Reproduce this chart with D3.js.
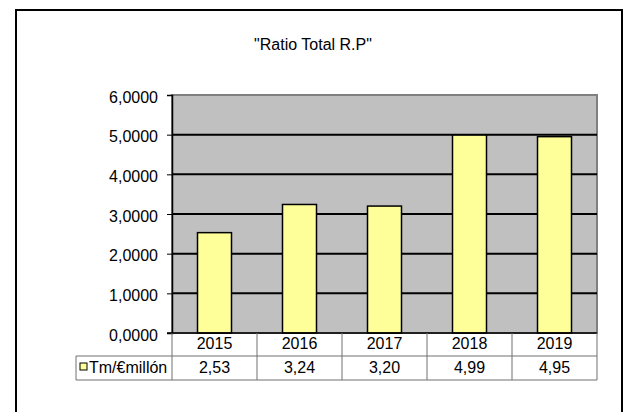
<!DOCTYPE html>
<html><head><meta charset="utf-8">
<script src="https://cdn.jsdelivr.net/npm/d3@7"></script>
<style>body{margin:0;background:#fff}svg{display:block}</style>
</head><body>
<script>
const categories = ["2015","2016","2017","2018","2019"];
const values = [2.53, 3.24, 3.20, 4.99, 4.95];
const valueLabels = ["2,53","3,24","3,20","4,99","4,95"];
const yTicks = [0,1,2,3,4,5,6];
const seriesName = "Tm/€millón";
const title = "\"Ratio Total R.P\"";

const W=625,H=412;
const svg=d3.select("body").append("svg").attr("width",W).attr("height",H);
const font="Liberation Sans, Arial, sans-serif";
const fs=16;
svg.append("rect").attr("x",16).attr("y",10).attr("width",606).attr("height",410)
  .attr("fill","#fff").attr("stroke","#000").attr("stroke-width",2);

const L=172,R=597,T=95,B=333;
const x=d3.scaleBand().domain(categories).range([L,R]);
const y=d3.scaleLinear().domain([0,6]).range([B,T]);

svg.append("text").attr("x",313).attr("y",50).attr("text-anchor","middle")
  .attr("font-family",font).attr("font-size",fs).text(title);

svg.append("rect").attr("x",L).attr("y",T).attr("width",R-L).attr("height",B-T)
  .attr("fill","#c0c0c0").attr("stroke","#808080").attr("stroke-width",2);

svg.append("g").selectAll("line").data(yTicks.filter(d=>d>0&&d<6)).join("line")
  .attr("x1",L).attr("x2",R).attr("y1",d=>y(d)).attr("y2",d=>y(d))
  .attr("stroke","#000").attr("stroke-width",2);

const yAxis=d3.axisLeft(y).tickValues(yTicks).tickSize(5).tickPadding(9)
  .tickFormat(d=>d3.format(".4f")(d).replace(".",","));
const ga=svg.append("g").attr("transform",`translate(${L},0)`).call(yAxis);
ga.select(".domain").attr("stroke","#000").attr("stroke-width",1.5);
ga.selectAll(".tick line").attr("stroke","#000");
ga.selectAll("text").attr("font-family",font).attr("font-size",fs).attr("fill","#000").attr("dy","0.45em");

const bw=x.bandwidth()*0.4;
svg.append("g").selectAll("rect").data(values).join("rect")
  .attr("x",(d,i)=>x(categories[i])+(x.bandwidth()-bw)/2)
  .attr("y",d=>y(d)).attr("width",bw).attr("height",d=>B-y(d))
  .attr("fill","#ffff99").attr("stroke","#000").attr("stroke-width",1.5);

svg.append("line").attr("x1",L-5).attr("x2",R).attr("y1",B).attr("y2",B)
  .attr("stroke","#000").attr("stroke-width",1.5);

// data table
const rowMid=356, rowBot=380, legL=76;
const tg=svg.append("g").attr("stroke","#707070").attr("stroke-width",1);
tg.append("line").attr("x1",legL).attr("x2",R).attr("y1",rowMid).attr("y2",rowMid);
tg.append("line").attr("x1",legL).attr("x2",R).attr("y1",rowBot).attr("y2",rowBot);
tg.append("line").attr("x1",legL).attr("x2",legL).attr("y1",rowMid).attr("y2",rowBot);
tg.selectAll("line.v").data(categories.concat(["end"])).join("line").attr("class","v")
  .attr("x1",(d,i)=>L+i*x.step()).attr("x2",(d,i)=>L+i*x.step())
  .attr("y1",B).attr("y2",rowBot);

svg.append("g").selectAll("text").data(categories).join("text")
  .attr("x",d=>x(d)+x.bandwidth()/2).attr("y",349).attr("text-anchor","middle")
  .attr("font-family",font).attr("font-size",fs).text(d=>d);
svg.append("g").selectAll("text").data(valueLabels).join("text")
  .attr("x",(d,i)=>x(categories[i])+x.bandwidth()/2).attr("y",373).attr("text-anchor","middle")
  .attr("font-family",font).attr("font-size",fs).text(d=>d);
svg.append("rect").attr("x",80).attr("y",363).attr("width",7).attr("height",7)
  .attr("fill","#ffff99").attr("stroke","#000").attr("stroke-width",1);
svg.append("text").attr("x",89).attr("y",373).attr("font-family",font).attr("font-size",fs).text(seriesName);
</script>
</body></html>
